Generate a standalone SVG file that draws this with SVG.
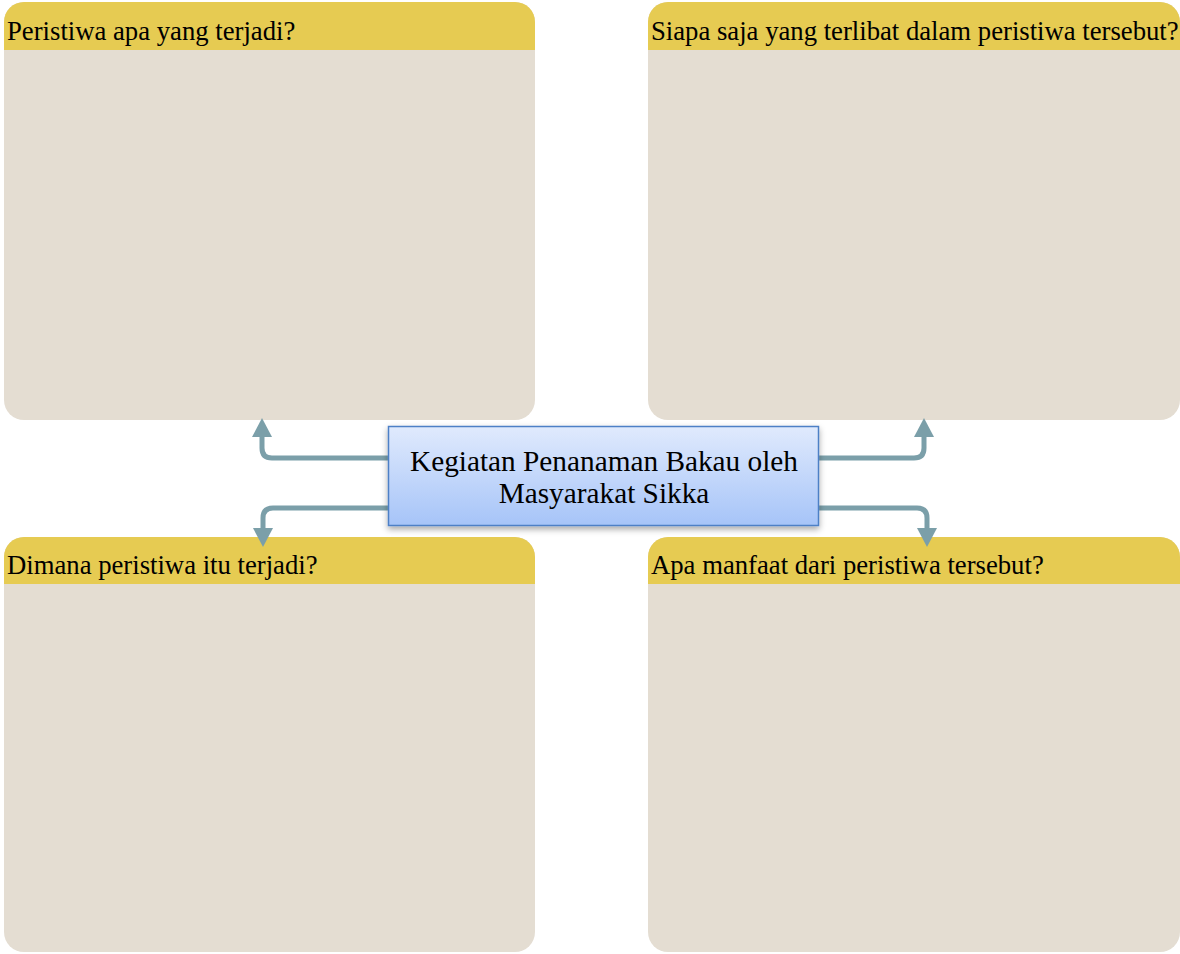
<svg xmlns="http://www.w3.org/2000/svg" width="1180" height="954" viewBox="0 0 1180 954">
<style>
.body{fill:#e4ddd2}
.head{fill:#e6cb52}
.q{font-family:"Liberation Serif",serif;font-size:26.7px;fill:#000}
.c{font-family:"Liberation Serif",serif;font-size:29.3px;fill:#000;text-anchor:middle}
.conn{fill:none;stroke:#7b9fa9;stroke-width:5;stroke-linejoin:round}
</style>
<defs>
<linearGradient id="g" x1="0" y1="0" x2="0" y2="1">
<stop offset="0" stop-color="#e0eafd"/>
<stop offset="1" stop-color="#a6c4f8"/>
</linearGradient>
<filter id="sh" x="-10%" y="-10%" width="120%" height="140%">
<feDropShadow dx="0" dy="3" stdDeviation="3" flood-color="#000" flood-opacity="0.35"/>
</filter>
<clipPath id="c1"><rect x="4" y="2" width="531" height="418" rx="20"/></clipPath>
<clipPath id="c2"><rect x="648" y="2" width="532" height="418" rx="20"/></clipPath>
<clipPath id="c3"><rect x="4" y="537" width="531" height="415" rx="20"/></clipPath>
<clipPath id="c4"><rect x="648" y="537" width="532" height="415" rx="20"/></clipPath>
</defs>
<g id="box-tl">
<rect class="body" x="4" y="2" width="531" height="418" rx="20"/>
<rect class="head" x="4" y="2" width="531" height="48" clip-path="url(#c1)"/>
<text class="q" x="7" y="39.5">Peristiwa apa yang terjadi?</text>
</g>
<g id="box-tr">
<rect class="body" x="648" y="2" width="532" height="418" rx="20"/>
<rect class="head" x="648" y="2" width="532" height="48" clip-path="url(#c2)"/>
<text class="q" x="651" y="39.5">Siapa saja yang terlibat dalam peristiwa tersebut?</text>
</g>
<g id="box-bl">
<rect class="body" x="4" y="537" width="531" height="415" rx="20"/>
<rect class="head" x="4" y="537" width="531" height="47" clip-path="url(#c3)"/>
<text class="q" x="7" y="574">Dimana peristiwa itu terjadi?</text>
</g>
<g id="box-br">
<rect class="body" x="648" y="537" width="532" height="415" rx="20"/>
<rect class="head" x="648" y="537" width="532" height="47" clip-path="url(#c4)"/>
<text class="q" x="651" y="574">Apa manfaat dari peristiwa tersebut?</text>
</g>
<g id="connectors">
<path class="conn" d="M390,458 H272 Q262,458 262,448 V434"/>
<polygon fill="#7b9fa9" points="262,418 272,437 252,437"/>
<path class="conn" d="M390,508 H273 Q263,508 263,518 V532"/>
<polygon fill="#7b9fa9" points="263,547 253,528 273,528"/>
<path class="conn" d="M818,458 H914 Q924,458 924,448 V434"/>
<polygon fill="#7b9fa9" points="924,418 934,437 914,437"/>
<path class="conn" d="M818,508 H917 Q927,508 927,518 V532"/>
<polygon fill="#7b9fa9" points="927,547 917,528 937,528"/>
</g>
<g id="center">
<rect x="388.5" y="426.5" width="430" height="99" fill="url(#g)" stroke="#4d80c6" stroke-width="1.5" filter="url(#sh)"/>
<text class="c" x="604" y="471">Kegiatan Penanaman Bakau oleh</text>
<text class="c" x="604" y="503">Masyarakat Sikka</text>
</g>
</svg>
